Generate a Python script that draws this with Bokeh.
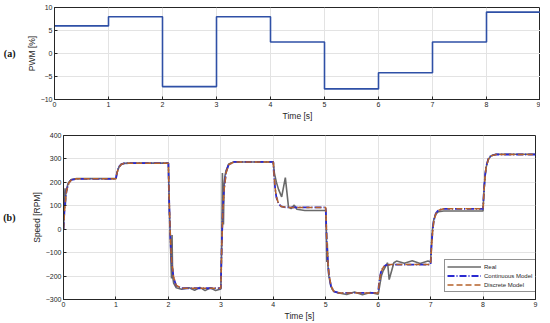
from bokeh.plotting import figure
from bokeh.layouts import column, row
from bokeh.models import LinearAxis, FixedTicker, Legend, LegendItem, Range1d
from bokeh.embed import file_html
from bokeh.resources import INLINE

# ---- data ----
pwm_t = [0, 1, 2, 3, 4, 5, 6, 7, 8, 9]
pwm_v = [6.0, 8.0, -7.2, 8.0, 2.5, -7.7, -4.2, 2.5, 9.0, 9.0]

real_t = [0, 0.01, 0.02, 0.03, 0.035, 0.045, 0.06, 0.08, 0.1, 0.15, 0.25, 1.0,
          1.01, 1.02, 1.04, 1.06, 1.1, 1.15, 1.25, 2.0,
          2.01, 2.02, 2.04, 2.05, 2.06, 2.07, 2.08, 2.1, 2.15, 2.25, 2.4, 2.5, 2.6, 2.7, 2.8, 2.9, 3.0,
          3.01, 3.02, 3.03, 3.04, 3.05, 3.06, 3.08, 3.1, 3.15, 3.25, 4.0,
          4.02, 4.06, 4.1, 4.16, 4.23, 4.29, 4.34, 4.4, 4.45, 4.6, 5.0,
          5.01, 5.02, 5.03, 5.04, 5.06, 5.1, 5.15, 5.25, 5.4, 5.55, 5.7, 5.85, 6.0,
          6.03, 6.06, 6.09, 6.18, 6.21, 6.3, 6.35, 6.5, 6.65, 6.8, 6.95, 7.0,
          7.01, 7.02, 7.04, 7.06, 7.1, 7.15, 7.25, 8.0,
          8.01, 8.02, 8.04, 8.06, 8.1, 8.15, 8.25, 9.0]
real_v = [0, 60, 140, 175, 100, 160, 165, 190, 200, 212, 216, 216,
          228, 240, 255, 266, 277, 281, 282, 282,
          170, 80, -60, -150, -210, -25, -200, -230, -250, -256, -250, -261, -248, -262, -250, -262, -255,
          -150, -40, 240, 140, 20, 180, 230, 250, 278, 287, 287,
          240, 200, 170, 138, 220, 95, 88, 103, 85, 80, 80,
          10, -140, -60, -150, -200, -245, -265, -272, -279, -268, -280, -270, -278,
          -240, -200, -180, -143, -215, -143, -136, -145, -135, -146, -136, -140,
          -90, -50, 10, 40, 65, 75, 78, 78,
          130, 170, 230, 265, 298, 313, 320, 320]

cont_t = [0, 0.01, 0.02, 0.04, 0.06, 0.1, 0.15, 0.25, 1.0,
          1.01, 1.02, 1.04, 1.06, 1.1, 1.15, 1.25, 2.0,
          2.01, 2.02, 2.04, 2.06, 2.1, 2.15, 2.25, 3.0,
          3.01, 3.02, 3.04, 3.06, 3.1, 3.15, 3.25, 4.0,
          4.01, 4.02, 4.04, 4.06, 4.1, 4.15, 4.25, 5.0,
          5.01, 5.02, 5.04, 5.06, 5.1, 5.15, 5.25, 6.0,
          6.01, 6.02, 6.04, 6.06, 6.1, 6.15, 6.25, 7.0,
          7.01, 7.02, 7.04, 7.06, 7.1, 7.15, 7.25, 8.0,
          8.01, 8.02, 8.04, 8.06, 8.1, 8.15, 8.25, 9.0]
cont_v = [0, 47, 84, 135, 168, 198, 211, 215, 215,
          230, 241, 257, 267, 277, 281, 282, 282,
          165, 74, -54, -135, -209, -241, -252, -252,
          -133, -42, 88, 168, 244, 276, 287, 287,
          244, 211, 165, 136, 109, 97, 93, 93,
          13, -49, -137, -192, -243, -265, -272, -272,
          -245, -225, -196, -178, -161, -153, -151, -151,
          -99, -58, -1, 35, 68, 82, 87, 87,
          138, 177, 233, 268, 300, 314, 319, 319]

disc_t = [0, 0.01, 0.02, 0.04, 0.06, 0.1, 0.15, 0.25, 1.0,
          1.01, 1.02, 1.04, 1.06, 1.1, 1.15, 1.25, 2.0,
          2.01, 2.02, 2.04, 2.06, 2.1, 2.15, 2.25, 3.0,
          3.01, 3.02, 3.04, 3.06, 3.1, 3.15, 3.25, 4.0,
          4.01, 4.02, 4.04, 4.06, 4.1, 4.15, 4.25, 5.0,
          5.01, 5.02, 5.04, 5.06, 5.1, 5.15, 5.25, 6.0,
          6.01, 6.02, 6.04, 6.06, 6.1, 6.15, 6.25, 7.0,
          7.01, 7.02, 7.04, 7.06, 7.1, 7.15, 7.25, 8.0,
          8.01, 8.02, 8.04, 8.06, 8.1, 8.15, 8.25, 9.0]
disc_v = [0, 40, 78, 130, 165, 196, 210, 215, 215,
          228, 239, 256, 266, 276, 281, 282, 282,
          180, 90, -45, -128, -205, -240, -252, -252,
          -150, -55, 80, 162, 240, 275, 287, 287,
          250, 215, 168, 138, 110, 97, 93, 93,
          25, -40, -130, -188, -240, -264, -272, -272,
          -250, -228, -198, -180, -162, -153, -151, -151,
          -108, -65, -6, 32, 66, 81, 87, 87,
          128, 170, 228, 265, 298, 313, 319, 319]

x_ticks = [0, 1, 2, 3, 4, 5, 6, 7, 8, 9]
pwm_ticks = [-10, -5, 0, 5, 10]
speed_ticks = [-300, -200, -100, 0, 100, 200, 300, 400]

FONT = "Liberation Sans"
DARK = "#262626"
GRID = "#e3e3e3"


def style(p, yticks, ylabel, panel_label, panel_standoff):
    p.outline_line_color = DARK
    p.outline_line_width = 1
    p.background_fill_color = "white"
    p.border_fill_color = "white"
    for ax in p.xaxis + p.yaxis:
        ax.axis_line_color = DARK
        ax.major_tick_line_color = DARK
        ax.major_tick_in = 3
        ax.major_tick_out = 0
        ax.minor_tick_line_color = None
        ax.major_label_text_font = FONT
        ax.major_label_text_font_size = "7px"
        ax.major_label_text_color = DARK
        ax.axis_label_text_font = FONT
        ax.axis_label_text_font_size = "8.5px"
        ax.axis_label_text_font_style = "normal"
        ax.axis_label_text_color = DARK
        ax.major_label_standoff = 2
        ax.axis_label_standoff = 1
    p.xaxis.ticker = FixedTicker(ticks=x_ticks)
    p.yaxis.ticker = FixedTicker(ticks=yticks)
    p.xgrid.ticker = FixedTicker(ticks=x_ticks)
    p.ygrid.ticker = FixedTicker(ticks=yticks)
    p.xgrid.grid_line_color = GRID
    p.ygrid.grid_line_color = GRID
    p.xaxis.axis_label = "Time [s]"
    p.yaxis[0].axis_label = ylabel
    # panel label "(a)" / "(b)" as a tick-less extra left axis
    pa = LinearAxis(ticker=FixedTicker(ticks=[]), axis_label=panel_label)
    pa.axis_line_color = None
    pa.major_tick_line_color = None
    pa.minor_tick_line_color = None
    pa.major_tick_out = 0
    pa.major_tick_in = 0
    pa.axis_label_orientation = "horizontal"
    pa.axis_label_text_font = "Liberation Serif"
    pa.axis_label_text_font_style = "bold"
    pa.axis_label_text_font_size = "10px"
    pa.axis_label_text_color = "#111111"
    pa.axis_label_standoff = panel_standoff
    p.add_layout(pa, "left")


# ---- top figure ----
p1 = figure(width=540, height=123, output_backend="svg", toolbar_location=None,
            x_range=Range1d(0, 9), y_range=Range1d(-10, 10),
            min_border_left=50, min_border_right=0, min_border_top=7, min_border_bottom=24)
style(p1, pwm_ticks, "PWM [%]", "(a)", 8)
p1.step(pwm_t, pwm_v, mode="after", line_color="#2f50a6", line_width=1.6)

# ---- bottom figure ----
p2 = figure(width=538, height=200, output_backend="svg", toolbar_location=None,
            x_range=Range1d(0, 9), y_range=Range1d(-300, 400),
            min_border_left=59, min_border_right=3, min_border_top=12, min_border_bottom=24)
style(p2, speed_ticks, "Speed [RPM]", "(b)", 13)
r_real = p2.line(real_t, real_v, line_color="#6a6a6a", line_width=1.6)
r_cont = p2.line(cont_t, cont_v, line_color="#2a2ad0", line_width=1.8, line_dash="7 2 1 2")
r_disc = p2.line(disc_t, disc_v, line_color="#b5622a", line_width=1.5, line_dash="6 3")

legend = Legend(items=[LegendItem(label="Real", renderers=[r_real]),
                       LegendItem(label="Continuous Model", renderers=[r_cont]),
                       LegendItem(label="Discrete Model", renderers=[r_disc])],
                location=(381, 7))
legend.margin = 0
legend.padding = 2
legend.spacing = 0
legend.glyph_width = 34
legend.glyph_height = 9
legend.label_height = 9
legend.label_width = 52
legend.label_standoff = 3
legend.label_text_font = FONT
legend.label_text_font_size = "6px"
legend.label_text_color = DARK
legend.border_line_color = DARK
legend.border_line_width = 0.8
legend.background_fill_alpha = 1
p2.add_layout(legend, "center")

# wrap each figure separately so that their frames are not aligned to each other
layout = column(row(p1), row(p2), spacing=0)
open("out.html", "w").write(file_html(layout, INLINE))
